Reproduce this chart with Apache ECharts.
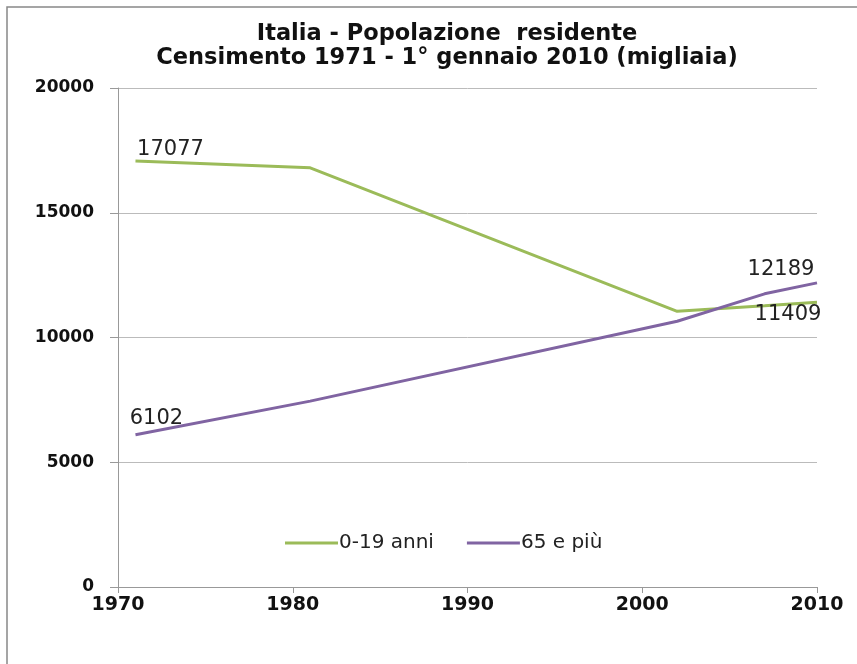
<!DOCTYPE html>
<html><head><meta charset="utf-8">
<script src="https://cdn.jsdelivr.net/npm/echarts@6/dist/echarts.min.js"></script>
<style>html,body{margin:0;padding:0;background:#fff}#c{width:857px;height:664px}</style>
</head><body><div id="c"></div>
<script>
const titleLines = ['Italia - Popolazione  residente', 'Censimento 1971 - 1° gennaio 2010 (migliaia)'];
const years = [1971, 1981, 2002, 2007, 2010];
const young = [17077, 16800, 11050, 11270, 11409];
const old = [6102, 7450, 10650, 11750, 12189];
const seriesNames = ['0-19 anni', '65 e più'];
const font = '"DejaVu Sans", sans-serif';

function pts(vals, labels) {
  return years.map((y, i) => {
    const d = {value: [y, vals[i]]};
    if (labels[i]) d.label = Object.assign({show: true, formatter: String(vals[i])}, labels[i]);
    return d;
  });
}
const lblStyle = {show: false, color: '#222', fontSize: 21, fontFamily: font};
const chart = echarts.init(document.getElementById('c'));
chart.setOption({
  animation: false,
  title: {
    text: titleLines.join('\n'), left: 442, textAlign: 'center', top: 17,
    textStyle: {fontSize: 22.5, fontWeight: 'bold', fontFamily: font, color: '#111', lineHeight: 24}
  },
  graphic: [{type: 'rect', shape: {x: 7, y: 7, width: 900, height: 700}, style: {fill: 'none', stroke: '#888', lineWidth: 1.5}, silent: true}],
  legend: {
    top: 528, left: 280, itemWidth: 53, itemHeight: 3, itemGap: 33,
    icon: 'rect',
    textStyle: {fontSize: 20, fontFamily: font, color: '#222', padding: [0, 0, 0, -4]},
    data: seriesNames
  },
  grid: {left: 118, right: 40, top: 88, bottom: 77},
  xAxis: {
    type: 'value', min: 1970, max: 2010, interval: 10,
    axisLine: {lineStyle: {color: '#999'}},
    axisTick: {show: true, length: 6, lineStyle: {color: '#999'}},
    splitLine: {show: false},
    axisLabel: {fontSize: 19, fontWeight: 'bold', fontFamily: font, color: '#111', margin: 9, formatter: v => String(v)}
  },
  yAxis: {
    type: 'value', min: 0, max: 20000, interval: 5000,
    axisLine: {show: true, lineStyle: {color: '#999'}},
    axisTick: {show: true, length: 8, lineStyle: {color: '#999'}},
    splitLine: {lineStyle: {color: '#bbb'}},
    axisLabel: {fontSize: 17, fontWeight: 'bold', fontFamily: font, color: '#111', margin: 24, formatter: v => String(v)}
  },
  series: [
    {name: seriesNames[0], type: 'line', color: '#9bbb59', symbol: 'circle', symbolSize: 0, lineStyle: {width: 3},
     label: lblStyle,
     data: pts(young, [{position: 'top', offset: [35, 4]}, null, null, null, {position: 'bottom', offset: [-29, -3]}])},
    {name: seriesNames[1], type: 'line', color: '#8064a2', symbol: 'circle', symbolSize: 0, lineStyle: {width: 3},
     label: lblStyle,
     data: pts(old, [{position: 'top', offset: [21, -1]}, null, null, null, {position: 'top', offset: [-36, 2]}])}
  ]
});
</script></body></html>
